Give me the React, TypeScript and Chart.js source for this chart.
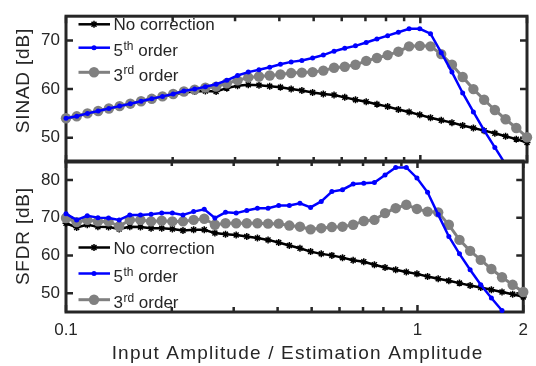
import React, { useEffect, useRef } from "react";
import { Chart, registerables } from "chart.js";

Chart.register(...registerables);

// ---- data ----
const xValues = [
  0.1, 0.10722, 0.11495, 0.12325, 0.13214, 0.14168, 0.1519, 0.16286, 0.17461, 0.18721,
  0.20072, 0.2152, 0.23073, 0.24738, 0.26523, 0.28437, 0.30489, 0.32689, 0.35047, 0.37576,
  0.40288, 0.43195, 0.46311, 0.49653, 0.53236, 0.57077, 0.61196, 0.65612, 0.70346, 0.75422,
  0.80864, 0.86699, 0.92955, 0.99647, 1.06839, 1.14548, 1.22813, 1.31675, 1.41177, 1.51364,
  1.62286, 1.73997, 1.86552, 2.0,
];

const sinadNoCorr = [
  54.0, 54.4, 55.0, 55.5, 56.0, 56.5, 57.0, 57.5, 58.0, 58.4,
  58.9, 59.3, 59.5, 59.6, 59.5, 60.2, 60.7, 60.9, 60.8, 60.6,
  60.4, 60.0, 59.7, 59.3, 59.0, 58.8, 58.3, 57.8, 57.4, 56.9,
  56.4, 55.8, 55.3, 54.7, 54.1, 53.6, 53.1, 52.5, 52.0, 51.45,
  50.9, 50.3, 49.7, 49.0,
];
const sinad5th = [
  54.0, 54.4, 55.0, 55.5, 56.0, 56.5, 57.0, 57.5, 58.0, 58.5,
  59.0, 59.6, 60.0, 60.5, 61.0, 61.8, 62.8, 63.5, 64.0, 64.5,
  65.1, 65.6, 65.9, 66.4, 67.0, 67.8, 68.4, 68.9, 69.6, 70.3,
  71.0, 71.7, 72.4, 72.4, 71.4, 67.5, 63.5, 59.2, 55.3, 51.5,
  48.0, 44.5, null, null,
];
const sinad3rd = [
  54.0, 54.4, 55.0, 55.5, 56.0, 56.5, 57.0, 57.5, 58.0, 58.5,
  59.0, 59.5, 59.9, 60.3, 60.5, 61.2, 61.8, 62.4, 62.6, 62.8,
  63.0, 63.3, 63.4, 63.5, 63.8, 64.4, 64.6, 65.0, 65.8, 66.4,
  67.0, 67.7, 68.8, 68.9, 68.8, 67.2, 65.0, 62.5, 60.0, 57.8,
  55.7, 53.8, 52.0, 50.1,
];

const sfdrNoCorr = [
  68.5, 67.4, 68.1, 67.6, 67.5, 67.0, 67.6, 67.5, 67.2, 67.2,
  67.0, 66.6, 66.8, 66.8, 65.9, 65.6, 65.4, 65.0, 64.6, 64.1,
  63.4, 62.6, 61.9, 61.0, 60.4, 60.0, 59.4, 58.7, 58.3, 57.5,
  56.8, 56.2, 55.6, 55.1, 54.4, 53.8, 53.3, 52.65, 52.0, 51.5,
  50.9, 50.3, 49.7, 49.0,
];
const sfdr5th = [
  71.0, 69.4, 70.5, 70.0, 69.9, 69.4, 70.7, 70.7, 70.9, 71.2,
  71.2, 70.7, 71.6, 72.2, 69.9, 71.4, 71.2, 71.9, 72.5, 72.5,
  73.2, 73.2, 73.8, 72.7, 74.3, 76.9, 77.4, 78.9, 79.1, 79.3,
  81.3, 83.3, 83.3, 80.5, 76.7, 70.8, 65.0, 60.4, 56.2, 52.2,
  48.7, 45.4, null, null,
];
const sfdr3rd = [
  69.9, 68.8, 69.4, 69.0, 69.0, 67.7, 69.4, 69.4, 69.0, 69.2,
  69.0, 69.0, 69.4, 69.7, 68.1, 68.5, 68.5, 68.5, 68.5, 68.4,
  68.4, 67.9, 67.6, 66.9, 67.2, 67.5, 67.6, 68.1, 69.1, 69.4,
  71.2, 72.5, 73.4, 72.3, 71.6, 71.4, 68.1, 64.1, 61.2, 58.8,
  56.4, 54.2, 52.2, 50.3,
];

const xTickValues = [0.1, 1, 2];
const xMinorTicks = [0.2, 0.3, 0.4, 0.5, 0.6, 0.7, 0.8, 0.9];
const sinadTicks = [50, 60, 70];
const sfdrTicks = [50, 60, 70, 80];
const sinadRange = [45, 75];
const sfdrRange = [45, 85];
const xRange = [0.1, 2];

// legend labels: [base, superscript, rest]
const legendLabels: [string, string, string][] = [
  ["No correction", "", ""],
  ["5", "th", " order"],
  ["3", "rd", " order"],
];
const sinadTitle = "SINAD [dB]";
const sfdrTitle = "SFDR [dB]";
const xTitle = "Input Amplitude / Estimation Amplitude";

// ---- style ----
const FONT = '"Liberation Sans", Arial, Helvetica, sans-serif';
const AXIS = "#262626";
const COLORS = ["#000000", "#0000ff", "#808080"];
const LINE_W = [2.5, 2.5, 3];

function drawMarker(ctx: CanvasRenderingContext2D, k: number, x: number, y: number) {
  ctx.save();
  if (k === 0) {
    ctx.strokeStyle = COLORS[0];
    ctx.lineWidth = 1.5;
    const r = 3.5;
    ctx.beginPath();
    ctx.moveTo(x - r, y); ctx.lineTo(x + r, y);
    ctx.moveTo(x, y - r); ctx.lineTo(x, y + r);
    const d = r * 0.7071;
    ctx.moveTo(x - d, y - d); ctx.lineTo(x + d, y + d);
    ctx.moveTo(x - d, y + d); ctx.lineTo(x + d, y - d);
    ctx.stroke();
  } else {
    ctx.fillStyle = COLORS[k];
    ctx.beginPath();
    ctx.arc(x, y, k === 1 ? 2.5 : 5.2, 0, Math.PI * 2);
    ctx.fill();
  }
  ctx.restore();
}

const framePlugin = {
  id: "frame",
  beforeDatasetsDraw(chart: any, _a: any, opts: any) {
    const { ctx, chartArea: a, scales } = chart;
    const xs = scales.x;
    const ys = scales.y;
    ctx.save();
    ctx.strokeStyle = AXIS;
    ctx.lineWidth = 2.5;
    ctx.beginPath();
    for (const v of xMinorTicks) {
      const px = xs.getPixelForValue(v);
      ctx.moveTo(px, a.bottom); ctx.lineTo(px, a.bottom - 5);
      ctx.moveTo(px, a.top); ctx.lineTo(px, a.top + 5);
    }
    for (const v of xTickValues) {
      const px = xs.getPixelForValue(v);
      ctx.moveTo(px, a.bottom); ctx.lineTo(px, a.bottom - 7);
      ctx.moveTo(px, a.top); ctx.lineTo(px, a.top + 7);
    }
    for (const v of opts.yTicks as number[]) {
      const py = ys.getPixelForValue(v);
      ctx.moveTo(a.left, py); ctx.lineTo(a.left + 7, py);
      ctx.moveTo(a.right, py); ctx.lineTo(a.right - 7, py);
    }
    ctx.stroke();
    ctx.lineWidth = 3;
    ctx.strokeRect(a.left, a.top, a.right - a.left, a.bottom - a.top);
    ctx.restore();
  },
};

const overlayPlugin = {
  id: "overlay",
  afterDraw(chart: any, _a: any, opts: any) {
    const { ctx } = chart;
    ctx.save();
    // legend
    const ysL: number[] = opts.legendY;
    legendLabels.forEach((lab, k) => {
      const y = ysL[k];
      ctx.strokeStyle = COLORS[k];
      ctx.lineWidth = LINE_W[k];
      ctx.beginPath();
      ctx.moveTo(78.5, y); ctx.lineTo(110, y);
      ctx.stroke();
      drawMarker(ctx, k, 94, y);
      ctx.fillStyle = AXIS;
      ctx.textBaseline = "alphabetic";
      ctx.textAlign = "left";
      const hasSup = lab[1] !== "";
      const base = y + (hasSup ? 8.6 : 6.1);
      let x = 113.5;
      ctx.font = `17px ${FONT}`;
      ctx.fillText(lab[0], x, base);
      x += ctx.measureText(lab[0]).width;
      if (hasSup) {
        ctx.font = `12px ${FONT}`;
        ctx.fillText(lab[1], x + 0.5, base - 6.5);
        x += ctx.measureText(lab[1]).width + 0.5;
        ctx.font = `17px ${FONT}`;
        ctx.fillText(lab[2], x, base);
      }
    });
    // titles
    for (const t of opts.titles as any[]) {
      ctx.save();
      ctx.translate(t.x, t.y);
      if (t.rot) ctx.rotate(-Math.PI / 2);
      ctx.font = `19px ${FONT}`;
      (ctx as any).letterSpacing = `${t.sp}px`;
      ctx.fillStyle = AXIS;
      ctx.textAlign = "center";
      ctx.textBaseline = "middle";
      ctx.fillText(t.text, t.sp / 2, 0);
      ctx.restore();
    }
    ctx.restore();
  },
};

function makeConfig(p: {
  series: (number | null)[][];
  range: number[];
  yTicks: number[];
  bottom: boolean;
  legendY: number[];
  titles: any[];
}): any {
  const pts = (arr: (number | null)[]) => xValues.map((x, i) => ({ x, y: arr[i] }));
  const clip = { left: 8, right: 8, top: 0, bottom: p.bottom ? 3 : 0 };
  const datasets = [
    {
      data: pts(p.series[0]),
      borderColor: COLORS[0],
      borderWidth: LINE_W[0],
      pointStyle: "star",
      pointRadius: 3.5,
      pointBorderWidth: 1.5,
      pointBorderColor: COLORS[0],
      pointBackgroundColor: COLORS[0],
      order: 2,
      clip,
    },
    {
      data: pts(p.series[1]),
      borderColor: COLORS[1],
      borderWidth: LINE_W[1],
      pointStyle: "circle",
      pointRadius: 2.5,
      pointBorderWidth: 0,
      pointBackgroundColor: COLORS[1],
      order: 0,
      clip,
    },
    {
      data: pts(p.series[2]),
      borderColor: COLORS[2],
      borderWidth: LINE_W[2],
      pointStyle: "circle",
      pointRadius: 5.2,
      pointBorderWidth: 0,
      pointBackgroundColor: COLORS[2],
      order: 1,
      clip,
    },
  ];
  return {
    type: "line",
    data: { datasets },
    plugins: [framePlugin, overlayPlugin],
    options: {
      responsive: false,
      animation: false,
      events: [],
      devicePixelRatio: 1,
      layout: {
        padding: p.bottom
          ? { left: 0, top: 161, right: 9, bottom: 0 }
          : { left: 0, top: 10, right: 9, bottom: 204 },
      },
      elements: { line: { tension: 0 } },
      plugins: {
        legend: { display: false },
        tooltip: { enabled: false },
        frame: { yTicks: p.yTicks },
        overlay: { legendY: p.legendY, titles: p.titles },
      },
      scales: {
        x: {
          type: "logarithmic",
          min: xRange[0],
          max: xRange[1],
          display: p.bottom,
          grid: { display: false, drawTicks: false },
          border: { display: false },
          afterBuildTicks: (s: any) => {
            s.ticks = xTickValues.map((v) => ({ value: v }));
          },
          afterFit: (s: any) => {
            s.height = p.bottom ? 54 : 0;
          },
          ticks: {
            autoSkip: false,
            maxRotation: 0,
            padding: 8,
            color: AXIS,
            font: { family: FONT, size: 17 },
            callback: (v: any) => String(v),
          },
        },
        y: {
          type: "linear",
          min: p.range[0],
          max: p.range[1],
          grid: { display: false, drawTicks: false },
          border: { display: false },
          afterBuildTicks: (s: any) => {
            s.ticks = p.yTicks.map((v) => ({ value: v }));
          },
          afterFit: (s: any) => {
            s.width = 66;
          },
          ticks: {
            padding: 6,
            color: AXIS,
            font: { family: FONT, size: 17 },
            callback: (v: any) => String(v),
          },
        },
      },
    },
  };
}

export default function App() {
  const topRef = useRef<HTMLCanvasElement>(null);
  const botRef = useRef<HTMLCanvasElement>(null);
  useEffect(() => {
    const c1 = new Chart(
      topRef.current as HTMLCanvasElement,
      makeConfig({
        series: [sinadNoCorr, sinad5th, sinad3rd],
        range: sinadRange,
        yTicks: sinadTicks,
        bottom: false,
        legendY: [24.3, 47.7, 72.3],
        titles: [{ text: sinadTitle, x: 24, y: 81, rot: true, sp: 0.8 }],
      })
    );
    const c2 = new Chart(
      botRef.current as HTMLCanvasElement,
      makeConfig({
        series: [sfdrNoCorr, sfdr5th, sfdr3rd],
        range: sfdrRange,
        yTicks: sfdrTicks,
        bottom: true,
        legendY: [247.5, 273.5, 299.7],
        titles: [
          { text: sfdrTitle, x: 24, y: 236.5, rot: true, sp: 0.8 },
          { text: xTitle, x: 297, y: 353.5, rot: false, sp: 1.2 },
        ],
      })
    );
    return () => {
      c1.destroy();
      c2.destroy();
    };
  }, []);
  return (
    <div style={{ position: "absolute", left: 0, top: 0, width: 536, height: 366, background: "#fff" }}>
      <canvas ref={topRef} width={536} height={366} style={{ position: "absolute", left: 0, top: 0 }} />
      <canvas ref={botRef} width={536} height={366} style={{ position: "absolute", left: 0, top: 0 }} />
    </div>
  );
}
